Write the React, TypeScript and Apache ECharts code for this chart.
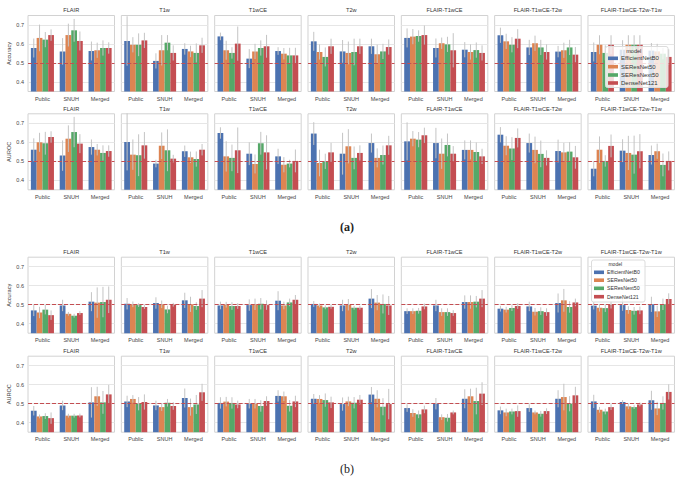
import React, { useEffect, useRef } from "react";
import * as echarts from "echarts";

const MODALITIES = ["FLAIR", "T1w", "T1wCE", "T2w", "FLAIR-T1wCE", "FLAIR-T1wCE-T2w", "FLAIR-T1wCE-T2w-T1w"];
const DATASETS = ["Public", "SNUH", "Merged"];
const MODELS = ["EfficientNetB0", "SEResNet50", "SEResNext50", "DenseNet121"];
const COLORS = ["#4c72b0", "#dd8452", "#55a868", "#c44e52"];
const Y_TICKS = [0.4, 0.5, 0.6, 0.7];
const CHANCE = 0.5;

// (a) Accuracy — per model, per modality: [Public, SNUH, Merged]
const aAccB0 = [[0.579, 0.561, 0.563], [0.616, 0.511, 0.574], [0.640, 0.523, 0.563], [0.614, 0.561, 0.588], [0.632, 0.579, 0.570], [0.646, 0.582, 0.560], [0.558, 0.570, 0.565]];
const aAccR50 = [[0.632, 0.647, 0.567], [0.596, 0.567, 0.561], [0.567, 0.561, 0.549], [0.558, 0.553, 0.546], [0.639, 0.604, 0.558], [0.614, 0.604, 0.567], [0.596, 0.596, 0.561]];
const aAccX50 = [[0.623, 0.672, 0.579], [0.596, 0.607, 0.553], [0.553, 0.579, 0.540], [0.532, 0.558, 0.561], [0.642, 0.598, 0.568], [0.596, 0.582, 0.582], [0.553, 0.596, 0.549]];
const aAccD121 = [[0.647, 0.616, 0.579], [0.619, 0.553, 0.593], [0.602, 0.588, 0.540], [0.588, 0.588, 0.584], [0.647, 0.567, 0.553], [0.628, 0.558, 0.544], [0.596, 0.596, 0.532]];
const aAccB0Err = [[0.05, 0.07, 0.05], [0.13, 0.04, 0.03], [0.02, 0.05, 0.02], [0.05, 0.06, 0.04], [0.05, 0.05, 0.04], [0.04, 0.04, 0.03], [0.05, 0.05, 0.04]];
const aAccR50Err = [[0.07, 0.06, 0.04], [0.04, 0.08, 0.03], [0.05, 0.04, 0.03], [0.04, 0.06, 0.05], [0.04, 0.03, 0.04], [0.04, 0.04, 0.04], [0.05, 0.05, 0.04]];
const aAccX50Err = [[0.04, 0.06, 0.04], [0.06, 0.04, 0.05], [0.03, 0.04, 0.04], [0.05, 0.07, 0.04], [0.03, 0.04, 0.04], [0.04, 0.04, 0.04], [0.04, 0.05, 0.03]];
const aAccD121Err = [[0.03, 0.05, 0.03], [0.04, 0.04, 0.04], [0.09, 0.06, 0.04], [0.04, 0.04, 0.04], [0.05, 0.09, 0.04], [0.05, 0.04, 0.04], [0.05, 0.05, 0.04]];

// (a) AUROC
const aAucB0 = [[0.561, 0.530, 0.575], [0.602, 0.488, 0.553], [0.649, 0.540, 0.526], [0.646, 0.540, 0.596], [0.605, 0.596, 0.560], [0.640, 0.596, 0.554], [0.461, 0.556, 0.533]];
const aAucR50 = [[0.600, 0.619, 0.561], [0.535, 0.582, 0.521], [0.526, 0.486, 0.482], [0.491, 0.579, 0.518], [0.619, 0.540, 0.560], [0.582, 0.560, 0.547], [0.561, 0.544, 0.553]];
const aAucX50 = [[0.595, 0.654, 0.544], [0.532, 0.558, 0.512], [0.518, 0.595, 0.488], [0.500, 0.518, 0.533], [0.614, 0.586, 0.549], [0.567, 0.539, 0.551], [0.502, 0.535, 0.481]];
const aAucD121 = [[0.628, 0.593, 0.554], [0.584, 0.514, 0.561], [0.558, 0.547, 0.502], [0.547, 0.544, 0.584], [0.637, 0.540, 0.526], [0.623, 0.518, 0.521], [0.581, 0.553, 0.502]];
const aAucB0Err = [[0.06, 0.08, 0.04], [0.15, 0.02, 0.03], [0.03, 0.06, 0.04], [0.06, 0.11, 0.05], [0.10, 0.08, 0.05], [0.04, 0.05, 0.06], [0.04, 0.06, 0.05]];
const aAucR50Err = [[0.05, 0.07, 0.03], [0.08, 0.07, 0.03], [0.08, 0.05, 0.04], [0.07, 0.09, 0.05], [0.04, 0.08, 0.05], [0.05, 0.07, 0.05], [0.07, 0.09, 0.04]];
const aAucX50Err = [[0.06, 0.08, 0.04], [0.11, 0.11, 0.04], [0.07, 0.06, 0.02], [0.04, 0.06, 0.05], [0.04, 0.06, 0.05], [0.06, 0.07, 0.05], [0.03, 0.10, 0.06]];
const aAucD121Err = [[0.03, 0.05, 0.03], [0.07, 0.02, 0.03], [0.12, 0.09, 0.06], [0.05, 0.04, 0.05], [0.04, 0.04, 0.04], [0.05, 0.04, 0.06], [0.06, 0.09, 0.05]];

// (b) Accuracy
const bAccB0 = [[0.470, 0.496, 0.516], [0.505, 0.509, 0.523], [0.496, 0.498, 0.521], [0.504, 0.496, 0.532], [0.466, 0.496, 0.514], [0.479, 0.491, 0.509], [0.495, 0.498, 0.502]];
const bAccR50 = [[0.459, 0.452, 0.511], [0.502, 0.502, 0.502], [0.500, 0.502, 0.496], [0.496, 0.500, 0.511], [0.466, 0.461, 0.514], [0.474, 0.463, 0.523], [0.484, 0.472, 0.465]];
const bAccX50 = [[0.474, 0.442, 0.514], [0.498, 0.475, 0.493], [0.493, 0.505, 0.512], [0.486, 0.484, 0.504], [0.468, 0.461, 0.516], [0.482, 0.466, 0.488], [0.482, 0.468, 0.502]];
const bAccD121 = [[0.445, 0.456, 0.526], [0.488, 0.500, 0.532], [0.493, 0.498, 0.526], [0.489, 0.484, 0.496], [0.491, 0.456, 0.532], [0.493, 0.461, 0.512], [0.500, 0.470, 0.530]];
const bAccB0Err = [[0.03, 0.03, 0.05], [0.03, 0.03, 0.04], [0.02, 0.03, 0.05], [0.015, 0.03, 0.05], [0.015, 0.03, 0.035], [0.015, 0.025, 0.05], [0.02, 0.03, 0.04]];
const bAccR50Err = [[0.03, 0.01, 0.08], [0.015, 0.02, 0.04], [0.015, 0.03, 0.02], [0.01, 0.03, 0.04], [0.015, 0.02, 0.035], [0.015, 0.02, 0.06], [0.02, 0.02, 0.03]];
const bAccX50Err = [[0.025, 0.01, 0.08], [0.01, 0.02, 0.02], [0.02, 0.03, 0.02], [0.01, 0.01, 0.05], [0.015, 0.02, 0.03], [0.015, 0.02, 0.03], [0.02, 0.02, 0.03]];
const bAccD121Err = [[0.025, 0.01, 0.07], [0.01, 0.01, 0.045], [0.015, 0.025, 0.025], [0.01, 0.01, 0.05], [0.015, 0.015, 0.045], [0.015, 0.02, 0.02], [0.02, 0.02, 0.03]];

// (b) AUROC
const bAucB0 = [[0.463, 0.491, 0.507], [0.512, 0.491, 0.530], [0.504, 0.500, 0.541], [0.526, 0.498, 0.548], [0.477, 0.500, 0.526], [0.465, 0.477, 0.526], [0.512, 0.509, 0.518]];
const bAucR50 = [[0.433, 0.437, 0.539], [0.525, 0.482, 0.482], [0.511, 0.500, 0.539], [0.525, 0.512, 0.526], [0.451, 0.429, 0.539], [0.454, 0.454, 0.535], [0.468, 0.486, 0.475]];
const bAucX50 = [[0.435, 0.437, 0.507], [0.500, 0.505, 0.496], [0.504, 0.488, 0.489], [0.519, 0.505, 0.484], [0.444, 0.426, 0.514], [0.459, 0.447, 0.500], [0.459, 0.482, 0.504]];
const bAucD121 = [[0.424, 0.438, 0.549], [0.509, 0.488, 0.560], [0.496, 0.514, 0.512], [0.507, 0.521, 0.498], [0.470, 0.454, 0.553], [0.461, 0.461, 0.544], [0.482, 0.496, 0.562]];
const bAucB0Err = [[0.025, 0.025, 0.08], [0.03, 0.025, 0.05], [0.03, 0.025, 0.03], [0.025, 0.035, 0.04], [0.02, 0.03, 0.05], [0.02, 0.02, 0.045], [0.035, 0.01, 0.05]];
const bAucR50Err = [[0.01, 0.01, 0.05], [0.02, 0.02, 0.045], [0.025, 0.025, 0.025], [0.02, 0.025, 0.045], [0.02, 0.015, 0.04], [0.02, 0.01, 0.07], [0.015, 0.015, 0.035]];
const bAucX50Err = [[0.015, 0.01, 0.06], [0.035, 0.02, 0.05], [0.03, 0.03, 0.03], [0.035, 0.03, 0.045], [0.02, 0.02, 0.07], [0.015, 0.015, 0.04], [0.015, 0.01, 0.035]];
const bAucD121Err = [[0.03, 0.01, 0.05], [0.04, 0.02, 0.045], [0.02, 0.025, 0.03], [0.03, 0.025, 0.08], [0.02, 0.01, 0.06], [0.03, 0.015, 0.045], [0.015, 0.01, 0.04]];

const ROWS = [
  { metric: "Accuracy", values: [aAccB0, aAccR50, aAccX50, aAccD121], errs: [aAccB0Err, aAccR50Err, aAccX50Err, aAccD121Err] },
  { metric: "AUROC", values: [aAucB0, aAucR50, aAucX50, aAucD121], errs: [aAucB0Err, aAucR50Err, aAucX50Err, aAucD121Err] },
  { metric: "Accuracy", values: [bAccB0, bAccR50, bAccX50, bAccD121], errs: [bAccB0Err, bAccR50Err, bAccX50Err, bAccD121Err] },
  { metric: "AUROC", values: [bAucB0, bAucR50, bAucX50, bAucD121], errs: [bAucB0Err, bAucR50Err, bAucX50Err, bAucD121Err] },
];

// layout
const FONT = "Liberation Sans, Arial, sans-serif";
const PANEL_X0 = 28;
const PANEL_STEP = 93.33;
const PANEL_W = 86.5;
const PANEL_H = 76;
const ROW_TOPS = [15.5, 113.8, 257.2, 356.2];
const TITLE_Y = [10, 109, 251.7, 350.7];

function renderErr(params: any, api: any) {
  const cat = api.value(0);
  const m = api.value(1);
  const lo = api.value(2);
  const hi = api.value(3);
  const band = api.size([1, 0])[0];
  const p1 = api.coord([cat, lo]);
  const p2 = api.coord([cat, hi]);
  const bw = (band * 0.8) / 4;
  const x = p1[0] - band * 0.4 + bw * (m + 0.5);
  return {
    type: "line",
    shape: { x1: x, y1: p1[1], x2: x, y2: p2[1] },
    style: { stroke: "#c4c4c4", lineWidth: 1 },
  };
}

function legendGraphic(x: number, y: number, w: number, h: number, fs: number, titleFs: number, rowYs: number[]) {
  const children: any[] = [
    { type: "rect", shape: { x, y, width: w, height: h, r: 2 }, style: { fill: "rgba(255,255,255,0.8)", stroke: "#dcdcdc", lineWidth: 1 }, z: 100 },
    { type: "text", x: x + w / 2 - 3, y: rowYs[0], style: { text: "model", fontSize: titleFs, fill: "#333", fontFamily: FONT, align: "center", verticalAlign: "middle", textAlign: "center", textVerticalAlign: "middle" }, z: 101 },
  ];
  MODELS.forEach((m, k) => {
    const yy = rowYs[k + 1];
    children.push({ type: "rect", shape: { x: x + 2.5, y: yy - 1.8, width: 10, height: 3.6 }, style: { fill: COLORS[k] }, z: 101 });
    children.push({ type: "text", x: x + 15.5, y: yy, style: { text: m, fontSize: fs, fill: "#333", fontFamily: FONT, align: "left", verticalAlign: "middle", textAlign: "left", textVerticalAlign: "middle" }, z: 101 });
  });
  return children;
}

export default function App() {
  const ref = useRef<HTMLDivElement>(null);
  useEffect(() => {
    if (!ref.current) return;
    const chart = echarts.init(ref.current, null, { renderer: "svg" });
    const grids: any[] = [];
    const xAxes: any[] = [];
    const yAxes: any[] = [];
    const series: any[] = [];
    const graphics: any[] = [];

    ROWS.forEach((row, r) => {
      MODALITIES.forEach((mod, c) => {
        const gi = r * 7 + c;
        const left = PANEL_X0 + c * PANEL_STEP;
        const top = ROW_TOPS[r];
        grids.push({ left, top, width: PANEL_W, height: PANEL_H, show: true, borderColor: "#d2d2d2", borderWidth: 1 });
        xAxes.push({
          type: "category", gridIndex: gi, data: DATASETS,
          axisLine: { show: false }, axisTick: { show: false },
          axisLabel: { fontSize: 5.5, color: "#444", margin: 4, interval: 0, fontFamily: FONT },
        });
        yAxes.push({
          type: "value", gridIndex: gi, min: 0.35, max: 0.75,
          axisLine: { show: false },
          axisTick: { show: false, customValues: Y_TICKS },
          axisLabel: { show: c === 0, customValues: Y_TICKS, formatter: (v: number) => v.toFixed(1), fontSize: 5.5, color: "#444", margin: 4, fontFamily: FONT },
          splitLine: { show: true, lineStyle: { color: "#e6e6e6", width: 1 } },
          name: c === 0 ? row.metric : "", nameLocation: "middle", nameGap: 13,
          nameTextStyle: { fontSize: 5.6, color: "#444", fontFamily: FONT },
        });
        MODELS.forEach((m, k) => {
          const s: any = {
            type: "bar", name: m, xAxisIndex: gi, yAxisIndex: gi,
            data: row.values[k][c], itemStyle: { color: COLORS[k] },
            barGap: "0%", barCategoryGap: "20%",
          };
          if (k === 3) {
            s.markLine = {
              symbol: ["none", "none"], silent: true, label: { show: false },
              lineStyle: { color: "#c44e52", type: "dashed", width: 1 },
              data: [{ yAxis: CHANCE }],
            };
          }
          series.push(s);
        });
        const errData: any[] = [];
        DATASETS.forEach((_, d) => {
          MODELS.forEach((__, k) => {
            const v = row.values[k][c][d];
            const e = row.errs[k][c][d];
            errData.push([d, k, v - e, v + e]);
          });
        });
        series.push({
          type: "custom", xAxisIndex: gi, yAxisIndex: gi, renderItem: renderErr,
          data: errData, z: 3, encode: { x: 0, y: [2, 3] },
        });
        graphics.push({
          type: "text", x: left + PANEL_W / 2, y: TITLE_Y[r],
          style: { text: mod, fontSize: 5.6, fill: "#333", fontFamily: FONT, align: "center", verticalAlign: "middle", textAlign: "center", textVerticalAlign: "middle" },
        });
      });
    });

    graphics.push(...legendGraphic(605.5, 46.5, 62.5, 41, 6, 5.6, [50.7, 58.3, 66.7, 75, 83]));
    graphics.push(...legendGraphic(591.5, 260, 53.5, 42, 5.2, 5, [264, 272.3, 280.2, 288.3, 296.7]));
    graphics.push({
      type: "text", x: 347, y: 227,
      style: { text: "(a)", fontSize: 12, fontWeight: "bold", fill: "#222", fontFamily: "Liberation Serif, serif", align: "center", verticalAlign: "middle", textAlign: "center", textVerticalAlign: "middle" },
    });
    graphics.push({
      type: "text", x: 347, y: 469,
      style: { text: "(b)", fontSize: 12, fill: "#222", fontFamily: "Liberation Serif, serif", align: "center", verticalAlign: "middle", textAlign: "center", textVerticalAlign: "middle" },
    });

    chart.setOption({
      animation: false,
      backgroundColor: "#ffffff",
      textStyle: { fontFamily: FONT },
      grid: grids,
      xAxis: xAxes,
      yAxis: yAxes,
      series,
      graphic: graphics,
    });
    return () => chart.dispose();
  }, []);
  return <div ref={ref} style={{ position: "absolute", left: 0, top: 0, width: 682, height: 482 }} />;
}
